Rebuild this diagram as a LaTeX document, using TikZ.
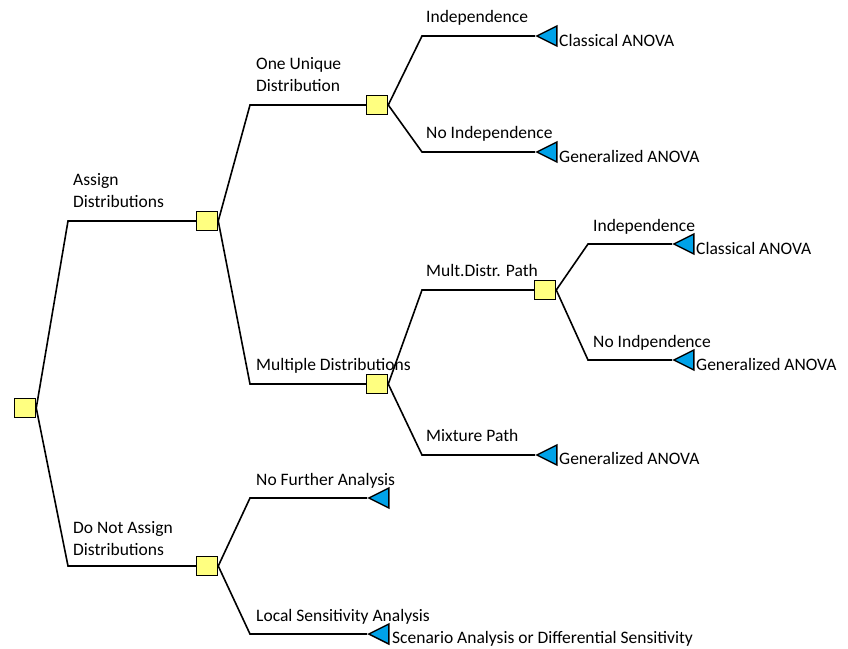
\documentclass[tikz,border=0pt]{standalone}
\usepackage{fontspec}
\setmainfont{Carlito}
\usetikzlibrary{shapes.geometric,calc}
\definecolor{decyel}{RGB}{255,255,128}
\definecolor{endblue}{RGB}{0,162,232}
\begin{document}
\begin{tikzpicture}[x=1pt,y=-1pt,
  every node/.style={font=\fontsize{17.5}{22.5}\selectfont},
  decbox/.style={draw, fill=decyel, line width=1.5pt, minimum width=21pt, minimum height=19pt, inner sep=0pt},
  endtri/.style={draw, fill=endblue, line width=1.4pt, isosceles triangle, isosceles triangle stretches,
    shape border rotate=180, minimum height=20pt, minimum width=20pt, inner sep=0pt, anchor=apex},
  edge/.style={draw, line width=1.6pt},
  lbl/.style={inner sep=0pt, anchor=base west},
  lbltwo/.style={inner sep=0pt, anchor=south west, align=left},
  endlbl/.style={inner sep=0pt, anchor=base west}
]
\useasboundingbox (0,0) rectangle (848,648);
% columns for bends
\coordinate (c1) at (68,0);
\coordinate (c2) at (250,0);
\coordinate (c3) at (422,0);
\coordinate (c4) at (588,0);
% decision nodes
\node[decbox] (root) at (25,408) {};
\node[decbox] (assign) at (207,221) {};
\node[decbox] (noassign) at (207,566) {};
\node[decbox] (unique) at (377,105) {};
\node[decbox] (multiple) at (377,384) {};
\node[decbox] (multdistr) at (545,290) {};
% end nodes
\node[endtri] (t1) at (535,36) {};
\node[endtri] (t2) at (535,152) {};
\node[endtri] (t3) at (672,244) {};
\node[endtri] (t4) at (672,360) {};
\node[endtri] (t5) at (535,455) {};
\node[endtri] (t6) at (367,498) {};
\node[endtri] (t7) at (367,634) {};
% connectors
\path[edge] (root.east) -- (c1 |- assign.west) -- (assign.west);
\path[edge] (root.east) -- (c1 |- noassign.west) -- (noassign.west);
\path[edge] (assign.east) -- (c2 |- unique.west) -- (unique.west);
\path[edge] (assign.east) -- (c2 |- multiple.west) -- (multiple.west);
\path[edge] (noassign.east) -- (c2 |- t6.apex) -- (t6.apex);
\path[edge] (noassign.east) -- (c2 |- t7.apex) -- (t7.apex);
\path[edge] (unique.east) -- (c3 |- t1.apex) -- (t1.apex);
\path[edge] (unique.east) -- (c3 |- t2.apex) -- (t2.apex);
\path[edge] (multiple.east) -- (c3 |- multdistr.west) -- (multdistr.west);
\path[edge] (multiple.east) -- (c3 |- t5.apex) -- (t5.apex);
\path[edge] (multdistr.east) -- (c4 |- t3.apex) -- (t3.apex);
\path[edge] (multdistr.east) -- (c4 |- t4.apex) -- (t4.apex);
% branch labels
\node[lbltwo] (la) at (73,208) {Assign\\Distributions};
\node[lbltwo] (lb) at (73,556) {Do Not Assign\\Distributions};
\node[lbltwo] (lc) at (256,92) {One Unique\\Distribution};
\node[lbl] (ld) at (256,370) {Multiple Distributions};
\node[lbl] (le) at (256,485) {No Further Analysis};
\node[lbl] (lf) at (256,621) {Local Sensitivity Analysis};
\node[lbl] (lg) at (426,22) {Independence};
\node[lbl] (lh) at (426,138) {No Independence};
\node[lbl] (li) at (426,276) {Mult.Distr. Path};
\node[lbl] (lj) at (426,441) {Mixture Path};
\node[lbl] (lk) at (593,231) {Independence};
\node[lbl] (ll) at (593,347) {No Indpendence};
% outcome labels
\node[endlbl] (o1) at (559,46) {Classical ANOVA};
\node[endlbl] (o2) at (559,162) {Generalized ANOVA};
\node[endlbl] (o3) at (696,254) {Classical ANOVA};
\node[endlbl] (o4) at (696,370) {Generalized ANOVA};
\node[endlbl] (o5) at (559,464) {Generalized ANOVA};
\node[endlbl] (o7) at (392,643) {Scenario Analysis or Differential Sensitivity};
\end{tikzpicture}
\end{document}
